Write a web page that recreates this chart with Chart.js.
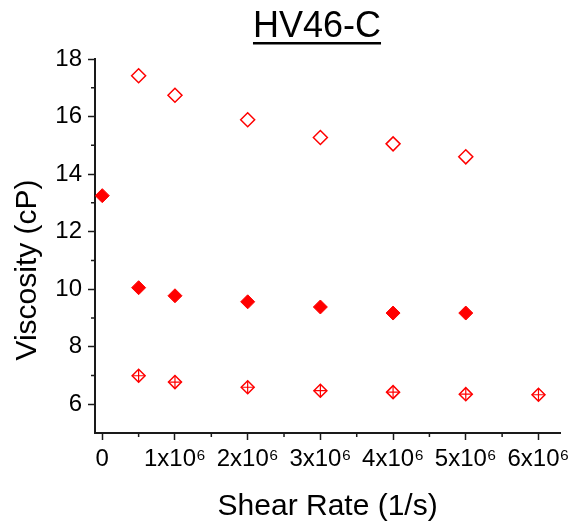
<!DOCTYPE html>
<html>
<head>
<meta charset="utf-8">
<title>HV46-C</title>
<script src="https://cdn.jsdelivr.net/npm/chart.js@4.4.1/dist/chart.umd.min.js"></script>
<style>
  html, body { margin: 0; padding: 0; background: #fff; }
  #wrap { width: 575px; height: 525px; }
</style>
</head>
<body>
<div id="wrap"><canvas id="viscChart" width="575" height="525"></canvas></div>
<script>
// values
const chartTitle = 'HV46-C';
const yTitle = 'Viscosity (cP)';
const xTitle = 'Shear Rate (1/s)';
const shearRate = [0, 0.5e6, 1e6, 2e6, 3e6, 4e6, 5e6, 6e6];
const viscOpen = [null, 17.42, 16.74, 15.89, 15.27, 15.05, 14.60, null];
const viscFilled = [13.25, 10.05, 9.77, 9.56, 9.38, 9.17, 9.17, null];
const viscCrossed = [null, 6.99, 6.77, 6.59, 6.47, 6.42, 6.35, 6.33];

const xTickValues = [0, 1e6, 2e6, 3e6, 4e6, 5e6, 6e6];
const xTickLabels = ['0', '1x10\u2076', '2x10\u2076', '3x10\u2076', '4x10\u2076', '5x10\u2076', '6x10\u2076'];
const xMinorValues = [0.5e6, 1.5e6, 2.5e6, 3.5e6, 4.5e6, 5.5e6];
const yTickValues = [6, 8, 10, 12, 14, 16, 18];
const yTickLabels = ['6', '8', '10', '12', '14', '16', '18'];
const yMinorValues = [7, 9, 11, 13, 15, 17];

const red = '#ff0000';
const axisColor = '#1a1a1a';
const fontFamily = 'Arial, "Liberation Sans", sans-serif';

function toPoints(xs, ys) {
  const pts = [];
  xs.forEach((x, i) => {
    if (ys[i] !== null) pts.push({ x: x, y: ys[i] });
  });
  return pts;
}

// short ticks between the labelled ones
const minorTicks = {
  id: 'minorTicks',
  afterDraw(chart) {
    const { ctx, scales: { x, y } } = chart;
    ctx.save();
    ctx.strokeStyle = axisColor;
    ctx.lineWidth = 1.5;
    ctx.beginPath();
    xMinorValues.forEach(v => {
      const px = x.getPixelForValue(v);
      ctx.moveTo(px, x.top);
      ctx.lineTo(px, x.top + 4);
    });
    yMinorValues.forEach(v => {
      const py = y.getPixelForValue(v);
      ctx.moveTo(y.right, py);
      ctx.lineTo(y.right - 4, py);
    });
    ctx.stroke();
    ctx.restore();
  }
};

// underlined title + y axis title (sits lower than the plot centre)
const titles = {
  id: 'titles',
  afterDraw(chart) {
    const ctx = chart.ctx;
    const cx = 317, base = 37;
    ctx.save();
    ctx.font = '36px ' + fontFamily;
    ctx.fillStyle = '#000';
    ctx.textAlign = 'center';
    ctx.textBaseline = 'alphabetic';
    ctx.fillText(chartTitle, cx, base);
    const w = ctx.measureText(chartTitle).width;
    ctx.fillRect(cx - w / 2, base + 5, w, 2.5);

    ctx.font = '30px ' + fontFamily;
    ctx.translate(36, 270);
    ctx.rotate(-Math.PI / 2);
    ctx.fillText(yTitle, 0, 0);
    ctx.restore();
  }
};

const crossedPoints = toPoints(shearRate, viscCrossed);

new Chart(document.getElementById('viscChart'), {
  type: 'scatter',
  data: {
    datasets: [{
      label: 'open',
      data: toPoints(shearRate, viscOpen),
      pointStyle: 'rectRot',
      pointRadius: 7,
      borderColor: red,
      backgroundColor: '#fff',
      borderWidth: 1.5
    }, {
      label: 'filled',
      data: toPoints(shearRate, viscFilled),
      pointStyle: 'rectRot',
      pointRadius: 7,
      borderColor: red,
      backgroundColor: red,
      borderWidth: 1
    }, {
      label: 'crossed (cross)',
      data: crossedPoints,
      pointStyle: 'cross',
      pointRadius: 6.5,
      borderColor: red,
      borderWidth: 1.2
    }, {
      label: 'crossed',
      data: crossedPoints,
      pointStyle: 'rectRot',
      pointRadius: 6.5,
      borderColor: red,
      backgroundColor: '#fff',
      borderWidth: 1.5
    }]
  },
  options: {
    responsive: false,
    animation: false,
    layout: {
      padding: { left: 0, top: 59, right: 12, bottom: 0 }
    },
    plugins: {
      legend: { display: false },
      tooltip: { enabled: false },
      title: { display: false }
    },
    scales: {
      x: {
        type: 'linear',
        min: -0.1e6,
        max: 6.3e6,
        afterBuildTicks: scale => {
          scale.ticks = xTickValues.map(v => ({ value: v }));
        },
        afterFit: scale => {
          scale.height = 92;
        },
        ticks: {
          callback: v => xTickLabels[xTickValues.indexOf(v)],
          font: { family: fontFamily, size: 24 },
          color: '#000',
          padding: 5,
          maxRotation: 0,
          autoSkip: false
        },
        grid: {
          drawOnChartArea: false,
          tickLength: 7,
          tickColor: axisColor,
          tickWidth: 1.5
        },
        border: { color: axisColor, width: 2 },
        title: {
          display: true,
          text: xTitle,
          font: { family: fontFamily, size: 30 },
          color: '#000',
          padding: { top: 0, bottom: 0 }
        }
      },
      y: {
        type: 'linear',
        min: 5,
        max: 18,
        afterBuildTicks: scale => {
          scale.ticks = yTickValues.map(v => ({ value: v }));
        },
        afterFit: scale => {
          scale.width = 95;
        },
        ticks: {
          callback: v => yTickLabels[yTickValues.indexOf(v)],
          font: { family: fontFamily, size: 24 },
          color: '#000',
          padding: 6,
          autoSkip: false
        },
        grid: {
          drawOnChartArea: false,
          tickLength: 7,
          tickColor: axisColor,
          tickWidth: 1.5
        },
        border: { color: axisColor, width: 2 }
      }
    }
  },
  plugins: [minorTicks, titles]
});
</script>
</body>
</html>
